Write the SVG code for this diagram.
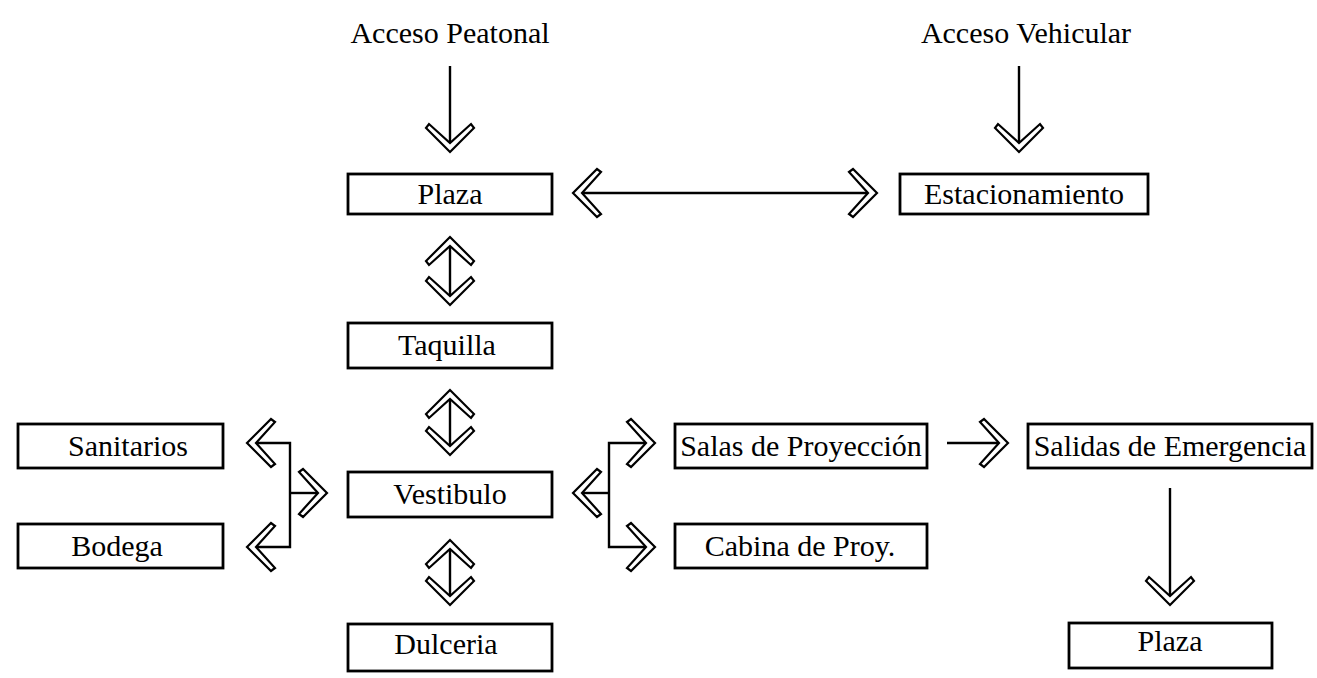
<svg xmlns="http://www.w3.org/2000/svg" xmlns:xlink="http://www.w3.org/1999/xlink" width="1317" height="678" viewBox="0 0 1317 678">
<style>
.box{fill:#fff;stroke:#000;stroke-width:2.8}
.lbl{font-family:"Liberation Serif","Times New Roman",serif;font-size:30px;fill:#000;text-anchor:middle}
.ln{fill:none;stroke:#000;stroke-width:2.4}
.hd{fill:#fff;stroke:#000;stroke-width:2.2;stroke-linejoin:miter}
</style>
<defs>
<path id="hd" class="hd" d="M0,0 L-24,-24 L-28,-21 L-9,0 L-28,21 L-24,24 Z"/>
</defs>
<rect width="1317" height="678" fill="#fff"/>
<g id="acceso-peatonal"><text class="lbl" x="450" y="43">Acceso Peatonal</text></g>
<g id="acceso-vehicular"><text class="lbl" x="1026" y="43">Acceso Vehicular</text></g>
<g id="plaza"><rect class="box" x="348" y="174" width="204" height="40"/><text class="lbl" x="450" y="204">Plaza</text></g>
<g id="estacionamiento"><rect class="box" x="900" y="174" width="248" height="40"/><text class="lbl" x="1024" y="204">Estacionamiento</text></g>
<g id="taquilla"><rect class="box" x="348" y="323" width="204" height="45"/><text class="lbl" x="447" y="355">Taquilla</text></g>
<g id="vestibulo"><rect class="box" x="348" y="472" width="204" height="45"/><text class="lbl" x="450" y="504">Vestibulo</text></g>
<g id="dulceria"><rect class="box" x="348" y="624" width="204" height="47"/><text class="lbl" x="446" y="654">Dulceria</text></g>
<g id="sanitarios"><rect class="box" x="18" y="424" width="205" height="44"/><text class="lbl" x="128" y="456">Sanitarios</text></g>
<g id="bodega"><rect class="box" x="18" y="524" width="205" height="44"/><text class="lbl" x="117" y="556">Bodega</text></g>
<g id="salas"><rect class="box" x="675" y="424" width="252" height="44"/><text class="lbl" x="801" y="456">Salas de Proyección</text></g>
<g id="cabina"><rect class="box" x="675" y="524" width="252" height="44"/><text class="lbl" x="800" y="556">Cabina de Proy.</text></g>
<g id="salidas"><rect class="box" x="1028" y="424" width="284" height="44"/><text class="lbl" x="1170" y="456">Salidas de Emergencia</text></g>
<g id="plaza2"><rect class="box" x="1069" y="623" width="203" height="45"/><text class="lbl" x="1170" y="651">Plaza</text></g>
<g id="connectors">
<line class="ln" x1="450" y1="66" x2="450" y2="143"/>
<use xlink:href="#hd" transform="translate(450,152) rotate(90)"/>
<line class="ln" x1="1019" y1="66" x2="1019" y2="143"/>
<use xlink:href="#hd" transform="translate(1019,152) rotate(90)"/>
<line class="ln" x1="582" y1="193" x2="868" y2="193"/>
<use xlink:href="#hd" transform="translate(573,193) rotate(180)"/>
<use xlink:href="#hd" transform="translate(877,193)"/>
<line class="ln" x1="450" y1="246" x2="450" y2="296"/>
<use xlink:href="#hd" transform="translate(450,237) rotate(-90)"/>
<use xlink:href="#hd" transform="translate(450,305) rotate(90)"/>
<line class="ln" x1="450" y1="399" x2="450" y2="446"/>
<use xlink:href="#hd" transform="translate(450,390) rotate(-90)"/>
<use xlink:href="#hd" transform="translate(450,455) rotate(90)"/>
<line class="ln" x1="450" y1="549" x2="450" y2="596"/>
<use xlink:href="#hd" transform="translate(450,540) rotate(-90)"/>
<use xlink:href="#hd" transform="translate(450,605) rotate(90)"/>
<polyline class="ln" points="256,443 290,443 290,547 256,547"/>
<use xlink:href="#hd" transform="translate(247,443) rotate(180)"/>
<use xlink:href="#hd" transform="translate(247,547) rotate(180)"/>
<line class="ln" x1="290" y1="493" x2="318" y2="493"/>
<use xlink:href="#hd" transform="translate(327,493)"/>
<line class="ln" x1="582" y1="493" x2="609" y2="493"/>
<use xlink:href="#hd" transform="translate(573,493) rotate(180)"/>
<polyline class="ln" points="646,443 609,443 609,547 646,547"/>
<use xlink:href="#hd" transform="translate(655,443)"/>
<use xlink:href="#hd" transform="translate(655,547)"/>
<line class="ln" x1="947" y1="443" x2="999" y2="443"/>
<use xlink:href="#hd" transform="translate(1008,443)"/>
<line class="ln" x1="1170" y1="488" x2="1170" y2="596"/>
<use xlink:href="#hd" transform="translate(1170,605) rotate(90)"/>
</g>
</svg>
